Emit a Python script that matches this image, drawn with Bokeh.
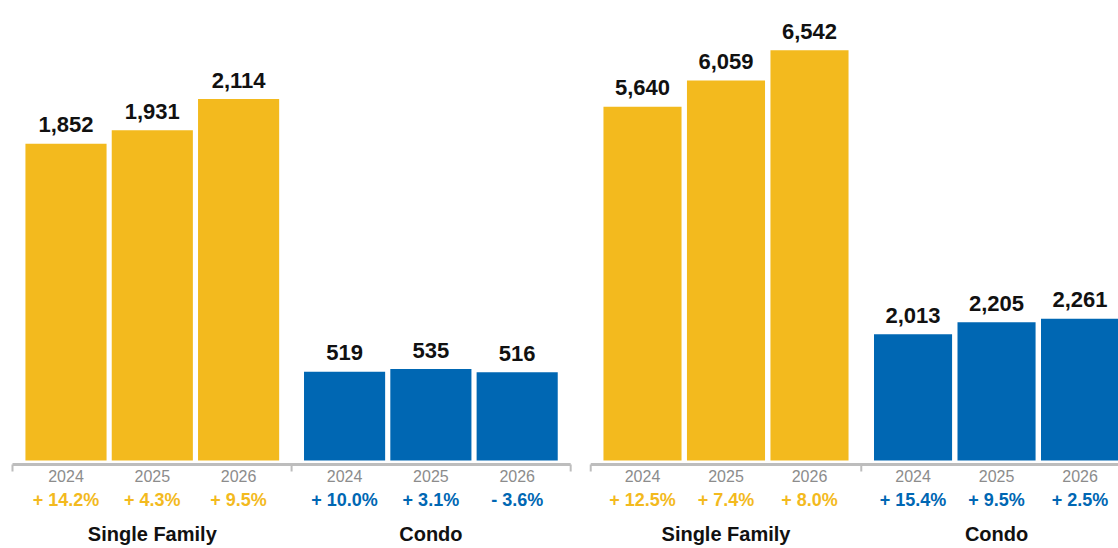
from bokeh.plotting import figure
from bokeh.layouts import row
from bokeh.models import ColumnDataSource
from bokeh.core.properties import value
from bokeh.embed import file_html
from bokeh.resources import INLINE

# ---- data ----
years = ["2024", "2025", "2026"]
groups = ["Single Family", "Condo"]

left_sf = [1852, 1931, 2114]
left_condo = [519, 535, 516]
left_sf_pct = [14.2, 4.3, 9.5]
left_condo_pct = [10.0, 3.1, -3.6]

right_sf = [5640, 6059, 6542]
right_condo = [2013, 2205, 2261]
right_sf_pct = [12.5, 7.4, 8.0]
right_condo_pct = [15.4, 9.5, 2.5]

GOLD = "#F3BA1E"
BLUE = "#0067B3"
GRAY_TXT = "#8C8C8C"
AXIS_GRAY = "#BDBDBD"
FONT = value("Liberation Sans")
H = 548
BASE = 460  # pixel row of the bars' base


def fmt_pct(v):
    return ("+ " if v >= 0 else "- ") + f"{abs(v):.1f}%"


def fmt_val(v):
    return f"{v:,}"


def make_panel(width, step_px, first_px, gap, ppu, bar_w, sf, condo, sf_pct, condo_pct):
    x0 = -first_px / step_px
    x1 = x0 + width / step_px
    y0 = -(H - BASE) / ppu
    y1 = BASE / ppu

    def ypx(py):
        return (BASE - py) / ppu

    p = figure(width=width, height=H, x_range=(x0, x1), y_range=(y0, y1),
               output_backend="svg", toolbar_location=None,
               x_axis_location=None, y_axis_location=None,
               min_border=0, min_border_left=0, min_border_right=0,
               min_border_top=0, min_border_bottom=0)
    p.outline_line_color = None
    p.xgrid.visible = False
    p.ygrid.visible = False
    p.background_fill_color = "white"
    p.border_fill_color = "white"

    xs_sf = [i for i in range(len(sf))]
    xs_co = [len(sf) + gap + i for i in range(len(condo))]

    src_sf = ColumnDataSource(dict(x=xs_sf, top=sf, lab=[fmt_val(v) for v in sf],
                                   yr=years, pct=[fmt_pct(v) for v in sf_pct]))
    src_co = ColumnDataSource(dict(x=xs_co, top=condo, lab=[fmt_val(v) for v in condo],
                                   yr=years, pct=[fmt_pct(v) for v in condo_pct]))

    for src, col in ((src_sf, GOLD), (src_co, BLUE)):
        p.vbar(x="x", top="top", bottom=0, width=bar_w, source=src,
               fill_color=col, line_color=None)
        p.text(x="x", y="top", text="lab", source=src, text_font=FONT,
               text_font_size="22px", text_font_style="bold", text_color="#111111",
               text_align="center", text_baseline="alphabetic", y_offset=-19)
        p.text(x="x", y=ypx(475), text="yr", source=src, text_font=FONT,
               text_font_size="16px", text_color=GRAY_TXT,
               text_align="center", text_baseline="middle")
        p.text(x="x", y=ypx(499), text="pct", source=src, text_font=FONT,
               text_font_size="18px", text_font_style="bold", text_color=col,
               text_align="center", text_baseline="middle")

    # axis bracket line with group boundary ticks
    ext = 0.62
    left_end = xs_sf[0] - ext
    mid = (xs_sf[-1] + xs_co[0]) / 2
    right_end = xs_co[-1] + ext
    p.segment(x0=[left_end], y0=[ypx(464)], x1=[right_end], y1=[ypx(464)],
              line_color=AXIS_GRAY, line_width=3)
    p.segment(x0=[left_end, mid, right_end], y0=[ypx(464)] * 3,
              x1=[left_end, mid, right_end], y1=[ypx(471)] * 3,
              line_color=AXIS_GRAY, line_width=2)

    # group labels
    gsrc = ColumnDataSource(dict(x=[sum(xs_sf) / len(xs_sf), sum(xs_co) / len(xs_co)],
                                 t=groups))
    p.text(x="x", y=ypx(533), text="t", source=gsrc, text_font=FONT,
           text_font_size="20px", text_font_style="bold", text_color="#111111",
           text_align="center", text_baseline="middle")
    return p


left = make_panel(580, 86.3, 65.5, 0.228, 0.171, 0.94,
                  left_sf, left_condo, left_sf_pct, left_condo_pct)
right = make_panel(538, 83.5, 62.0, 0.24, 0.0627, 0.935,
                   right_sf, right_condo, right_sf_pct, right_condo_pct)

layout = row(left, right, spacing=0)
open("out.html", "w").write(file_html(layout, INLINE))
